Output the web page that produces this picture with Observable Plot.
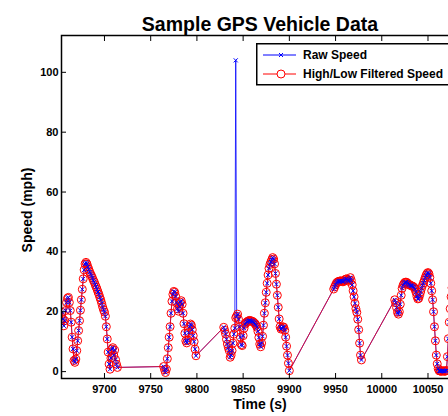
<!DOCTYPE html>
<html><head><meta charset="utf-8">
<script src="https://cdn.jsdelivr.net/npm/d3@7"></script>
<script src="https://cdn.jsdelivr.net/npm/@observablehq/plot@0.6"></script>
<style>
html,body{margin:0;padding:0;background:#fff;}
#wrap{position:relative;width:448px;height:416px;overflow:hidden;background:#fff;}
#legend{position:absolute;left:256px;top:43px;}
</style></head><body><div id="wrap"></div>
<script>
const chartTitle = "Sample GPS Vehicle Data";
const xLabel = "Time (s)";
const yLabel = "Speed (mph)";
const seriesNames = ["Raw Speed", "High/Low Filtered Speed"];
const xTicks = [9700, 9750, 9800, 9850, 9900, 9950, 10000, 10050];
const yTicks = [0, 20, 40, 60, 80, 100];
const xDomain = [9653.5, 10083];
const yDomain = [-2.3, 112.3];

const time = [
  9654,9655,9656,9657,9658,9659,9660,9661,9662,9663,9664,9665,9666,9667,9668,9669,9670,9671,9672,9673,
  9674,9675,9676,9677,9678,9679,9680,9681,9682,9683,9684,9685,9686,9687,9688,9689,9690,9691,9692,9693,
  9694,9695,9696,9697,9698,9699,9700,9701,9702,9703,9704,9705,9706,9707,9708,9709,9710,9711,9712,9713,9714,
  9764,9765,9766,9767,9768,9769,9770,9771,9772,9773,9774,9775,9776,9777,9778,9779,9780,9781,9782,9783,
  9784,9785,9786,9787,9788,9789,9790,9791,9792,9793,9794,9795,9796,9797,9798,9799,
  9829,9830,9831,9832,9833,9834,9835,9836,9837,9838,9839,9840,9841,9842,9843,9844,9845,9846,9847,9848,
  9849,9850,9851,9852,9853,9854,9855,9856,9857,9858,9859,9860,9861,9862,9863,9864,9865,9866,9867,9868,
  9869,9870,9871,9872,9873,9874,9875,9876,9877,9878,9879,9880,9881,9882,9883,9884,9885,9886,9887,9888,
  9889,9890,9891,9892,9893,9894,9895,9896,9897,9898,9899,9900,
  9948,9949,9950,9951,9952,9953,9954,9955,9956,9957,9958,9959,9960,9961,9962,9963,9964,9965,9966,9967,
  9968,9969,9970,9971,9972,9973,9974,9975,9976,9977,9978,
  10014,10015,10016,10017,10018,10019,10020,10021,10022,10023,10024,10025,10026,10027,10028,10029,10030,
  10031,10032,10033,10034,10035,10036,10037,10038,10039,10040,10041,10042,10043,10044,10045,10046,10047,
  10048,10049,10050,10051,10052,10053,10054,10055,10056,10057,10058,10059,10060,10061,10062,10063,10064,
  10065,10066,10067,10068,10069,10070,10071,10072,10073,10074,10075,10076
];
const rawSpeed = [
  19.8,17.6,15.3,17.0,20.4,23.1,24.5,24.8,23.1,20.4,16.5,11.5,7.6,3.7,3.1,4.2,7.0,10.3,13.7,17.0,
  20.5,24.0,27.5,31.0,34.0,36.0,36.5,36.0,35.0,34.2,33.3,32.6,32.0,31.3,30.5,29.9,29.0,28.3,27.5,26.6,
  25.8,24.8,23.9,22.8,21.6,20.6,19.9,18.5,15.0,10.9,6.5,2.5,0.8,4.5,7.5,8.0,5.5,7.2,4.0,2.5,1.4,
  1.7,0.6,-0.3,0.8,4.3,8.0,11.5,15.0,19.5,23.5,25.8,26.8,26.5,25.2,23.0,21.0,20.2,21.8,23.2,23.7,
  22.5,19.5,16.0,12.8,10.3,9.6,10.5,13.0,15.0,15.9,15.5,14.0,12.0,10.0,7.5,5.3,
  14.8,13.8,12.6,10.8,9.2,8.0,7.0,4.8,5.5,7.0,9.5,12.5,14.5,104.0,18.5,19.2,17.5,15.0,11.5,9.0,
  8.7,12.0,14.5,15.8,16.2,16.6,16.8,17.0,17.1,17.0,16.9,16.8,16.6,16.3,16.0,15.5,14.8,13.5,11.4,9.2,
  8.3,9.5,11.8,15.5,19.5,23.0,26.5,29.5,32.3,34.5,35.8,36.6,37.4,38.1,37.6,36.0,32.8,29.2,25.5,21.5,
  17.6,15.0,14.2,14.5,15.0,14.8,13.8,11.5,8.5,5.5,2.8,0.3,
  27.6,28.3,29.0,29.6,29.9,30.1,30.2,30.3,30.3,30.2,30.0,30.2,30.6,30.9,31.0,30.6,30.2,30.6,31.4,30.5,
  29.0,27.0,25.0,22.8,21.0,19.8,17.5,14.0,9.5,5.5,3.9,
  24.0,23.0,21.4,19.8,19.2,20.0,22.5,25.5,27.8,28.8,29.4,29.8,29.9,29.8,29.5,29.2,29.0,
  28.8,28.7,28.6,28.4,28.1,27.5,26.5,25.2,24.3,24.5,25.5,26.6,27.8,28.8,29.6,30.5,31.4,
  32.2,32.8,33.1,32.7,31.5,29.5,27.0,24.0,20.0,15.0,10.3,5.5,2.6,1.0,0.3,0.2,0.1,
  0.2,0.3,0.2,0.1,0.2,0.4,5.0,11.0,16.5,21.0,25.0,28.0
];
// the high/low filter replaces the single outlier reading
const spikeTime = 9842;
const spikeFilteredValue = 18.0;

const data = time.map((t, i) => ({
  t,
  raw: rawSpeed[i],
  filtered: t === spikeTime ? spikeFilteredValue : rawSpeed[i]
}));

const font = "'Liberation Sans', Arial, Helvetica, sans-serif";
const blank = () => "";

const chart = Plot.plot({
  width: 448,
  height: 416,
  marginLeft: 61,
  marginRight: -10,
  marginTop: 35,
  marginBottom: 38,
  style: {fontFamily: font, fontWeight: "bold", fontSize: "11px", background: "white", overflow: "hidden"},
  x: {domain: xDomain},
  y: {domain: yDomain},
  marks: [
    Plot.line(data, {x: "t", y: "raw", stroke: "#0000ff", strokeWidth: 0.8, clip: true}),
    Plot.line(data, {x: "t", y: "filtered", stroke: "#ff0000", strokeWidth: 0.8, clip: true}),
    Plot.dot(data, {x: "t", y: "filtered", r: 4, stroke: "#ff0000", strokeWidth: 1, fill: "none", clip: true}),
    Plot.dot(data, {x: "t", y: "raw", symbol: "times", r: 2, stroke: "#0000ff", strokeWidth: 1, clip: true}),
    Plot.frame({stroke: "black", strokeWidth: 1.5}),
    Plot.axisX({ticks: xTicks, tickSize: 0, tickPadding: 7, tickFormat: d => String(d), fontSize: 11, fontWeight: "bold", label: null}),
    Plot.axisX({ticks: xTicks, tickSize: 5, dy: -5, tickFormat: blank, label: null}),
    Plot.axisX({anchor: "top", ticks: xTicks, tickSize: 5, dy: 5, tickFormat: blank, label: null}),
    Plot.axisY({ticks: yTicks, tickSize: 0, tickPadding: 3, tickFormat: d => String(d), fontSize: 11, fontWeight: "bold", label: null}),
    Plot.axisY({ticks: yTicks, tickSize: 5, dx: 5, tickFormat: blank, label: null}),
    Plot.text([chartTitle], {frameAnchor: "top", dy: -18.5, fontSize: 19.5, fontWeight: "bold", fill: "black"}),
    Plot.text([xLabel], {frameAnchor: "bottom", textAnchor: "middle", dy: 30.5, fontSize: 14, fontWeight: "bold", fill: "black"}),
    Plot.text([yLabel], {frameAnchor: "left", textAnchor: "middle", dx: -34, dy: 3, rotate: -90, fontSize: 14, fontWeight: "bold", fill: "black"})
  ]
});

const wrap = document.getElementById("wrap");
wrap.appendChild(chart);

// legend box (MATLAB style), drawn as a small SVG overlay
const ns = "http://www.w3.org/2000/svg";
const lg = document.createElementNS(ns, "svg");
lg.setAttribute("id", "legend");
lg.setAttribute("width", "200");
lg.setAttribute("height", "43");
lg.innerHTML = `
  <rect x="0.75" y="0.75" width="220" height="41" fill="white" stroke="black" stroke-width="1.5"/>
  <line x1="7" x2="40" y1="12" y2="12" stroke="#0000ff" stroke-width="1"/>
  <path d="M23,10 L27,14 M23,14 L27,10" stroke="#0000ff" stroke-width="1" fill="none"/>
  <text x="47" y="16.2" font-family="${font}" font-weight="bold" font-size="12" fill="black">${seriesNames[0]}</text>
  <line x1="7" x2="40" y1="31" y2="31" stroke="#ff0000" stroke-width="1"/>
  <circle cx="25" cy="31" r="4" stroke="#ff0000" stroke-width="1" fill="white"/>
  <text x="47" y="35.2" font-family="${font}" font-weight="bold" font-size="12" fill="black">${seriesNames[1]}</text>
`;
wrap.appendChild(lg);
</script>
</body></html>
